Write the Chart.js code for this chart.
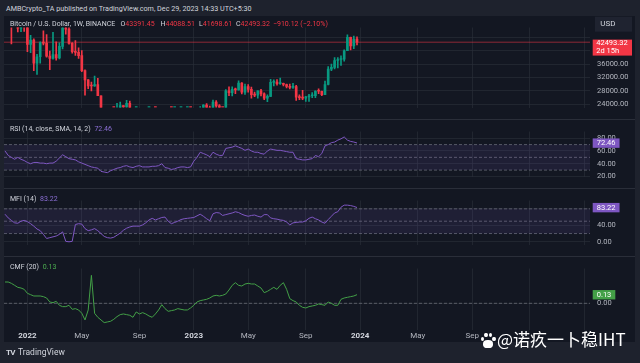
<!DOCTYPE html>
<html><head><meta charset="utf-8">
<script src="https://cdn.jsdelivr.net/npm/chart.js@4.4.1/dist/chart.umd.min.js"></script>
<style>
html,body{margin:0;padding:0;}
body{width:640px;height:363px;overflow:hidden;background:#1e222d;position:relative;font-family:Roboto,"Liberation Sans",Arial,sans-serif;}
#frame{position:absolute;left:4px;top:16px;width:631px;height:326px;background:#131722;}
.pane{position:absolute;left:4px;width:636px;}
.pane canvas{display:block;}
.t{position:absolute;white-space:nowrap;color:#d1d4dc;font-size:7px;line-height:9px;}
.sep{position:absolute;left:4px;width:631px;height:1px;background:#2a2e39;}
.red{color:#f23645;}
.paw i{position:absolute;background:#fff;border-radius:50%;display:block;}
</style></head><body>
<div id="frame"></div>
<div class="pane" style="top:16px;height:103px"><canvas id="cPrice" width="636" height="103"></canvas></div>
<div class="pane" style="top:120px;height:68px"><canvas id="cRsi" width="636" height="68"></canvas></div>
<div class="pane" style="top:189px;height:67px"><canvas id="cMfi" width="636" height="67"></canvas></div>
<div class="pane" style="top:257px;height:85px"><canvas id="cCmf" width="636" height="85"></canvas></div>
<div class="sep" style="top:119px"></div>
<div class="sep" style="top:188px"></div>
<div class="sep" style="top:256px"></div>

<div class="t" style="left:6px;top:3.5px;font-size:7.2px;">AMBCrypto_TA published on TradingView.com, Dec 29, 2023 14:33 UTC+5:30</div>
<div class="t" style="left:10px;top:19.5px">Bitcoin / U.S. Dollar, 1W, BINANCE</div>
<div class="t" id="lgO" style="left:120.5px;top:19.5px"></div>
<div class="t" id="lgH" style="left:160.5px;top:19.5px"></div>
<div class="t" id="lgL" style="left:199px;top:19.5px"></div>
<div class="t" id="lgC" style="left:236px;top:19.5px"></div>
<div class="t red" id="lgChg" style="left:273px;top:19.5px"></div>
<div class="t" style="left:10px;top:124.5px">RSI (14, close, SMA, 14, 2) <span id="rsiV" style="color:#8c6fd6;margin-left:2px"></span></div>
<div class="t" style="left:10px;top:194.5px">MFI (14) <span id="mfiV" style="color:#8c6fd6;margin-left:2px"></span></div>
<div class="t" style="left:10px;top:263.2px">CMF (20) <span id="cmfV" style="color:#4caf50;margin-left:2px"></span></div>

<div class="t" style="left:6px;top:347.5px;font-size:8px;font-weight:bold;letter-spacing:-0.8px">TV</div>
<div class="t" style="left:18px;top:347.5px;font-size:8.5px;">TradingView</div>

<div class="paw" style="position:absolute;left:480px;top:332px;width:16px;height:16px;">
  <i style="left:0.5px;top:4.5px;width:3.5px;height:4.5px"></i>
  <i style="left:4px;top:0.5px;width:3.5px;height:4.5px"></i>
  <i style="left:8.5px;top:0.5px;width:3.5px;height:4.5px"></i>
  <i style="left:12px;top:4.5px;width:3.5px;height:4.5px"></i>
  <i style="left:3px;top:7.5px;width:10px;height:8px;border-radius:45%"></i>
</div>
<div style="position:absolute;left:497px;top:328px;font-size:17px;line-height:22px;color:#fff;white-space:nowrap;font-family:'Noto Sans CJK SC',sans-serif;">@诺疚一卜稳IHT</div>

<script>
// ---------- DATA ----------
const openP = [65500,58600,57270,49400,50100,46700,50800,47300,41850,43100,36280,38150,42400,42200,38350,37700,38800,37800,41250,46800,46400,42150,39700,39450,38500,34050,31300,29450,29440,29900,26550,20550,21000,19300,20850,20800,22550,23650,23200,24300,21150,19550,19800,21800,19400,18800,19050,19400,19200,19550,20600,20900,16350,16280,16450,17100,17100,16750,16850,16600,17130,20870,22700,23750,22930,21780,24630,23550,22430,22150,28000,27500,28450,28300,30300,27600,29250,28450,26900,26750,28050,27100,25850,26350,30550,30600,30150,30250,29900,29300,29050,29300,26100,26000,25850,26200,26550,26550,27950,27900,26850,29900,34500,35000,37050,37350,37450,39950,43950,41350,43391.45];
const highP = [66300,59200,59050,51950,50650,51900,52100,47550,44500,43500,38900,42600,45850,44750,39850,45400,42600,42300,46900,48200,47450,42400,42950,40800,40000,34250,31400,30650,32400,31750,26550,21850,21550,22500,21650,24300,24700,23650,25200,25000,21900,20600,22800,22700,19950,20400,20450,19500,19700,21000,21450,21450,17200,16750,17450,17450,18400,16950,16950,17300,21300,23350,23950,24250,23450,25250,25150,23900,22600,28400,29200,29200,28800,31000,30500,30050,29850,29100,27650,28050,28450,27400,26800,31450,31300,31350,31800,30350,29990,30050,30250,29650,26800,28150,26400,27000,27500,28050,28600,27950,30950,35250,35950,37950,37950,38400,40250,44700,44000,44300,44088.51];
const lowP  = [55600,53250,42000,47300,45550,45600,45700,39650,39400,34000,32900,36250,41700,38000,34300,37450,37150,37550,40500,44900,41900,39200,38550,37700,33700,26700,28650,28000,29300,26550,17600,19600,18600,19000,18900,20750,20700,22400,22650,20750,19800,19550,18550,19300,18150,18450,19000,18200,18900,19250,20050,15600,15800,15500,16000,16750,16550,16500,16300,16500,17100,20400,22300,22500,21350,21350,22750,21950,19550,21900,26600,26500,27200,28200,27100,26950,27650,25800,26300,25850,26500,25350,24800,26250,29500,29700,29950,29500,28850,28600,28700,25150,25350,25350,24900,24900,26000,26000,27200,26550,26850,29800,34050,34550,34800,35600,36850,39950,40200,40550,41698.61];
const closeP= [58600,57270,49400,50100,46700,50800,47300,41850,43100,36280,38150,42400,42200,38350,37700,38800,37800,41250,46800,46400,42150,39700,39450,38500,34050,31300,29450,29440,29900,26550,20550,21000,19300,20850,20800,22550,23650,23200,24300,21150,19550,19800,21800,19400,18800,19050,19400,19200,19550,20600,20900,16350,16280,16450,17100,17100,16750,16850,16600,17130,20870,22700,23750,22930,21780,24630,23550,22430,22150,28000,27500,28450,28300,30300,27600,29250,28450,26900,26750,28050,27100,25850,26350,30550,30600,30150,30250,29900,29300,29050,29300,26100,26000,25850,26200,26550,26550,27950,27900,26850,29900,34500,35000,37050,37350,37450,39950,43950,41350,43403.44,42493.32];
const rsi = [60,53,50,47,50,47,45,42,40,42,42,41,41,40,41,41,44,49,54,51,48,47,46,43,41,39,37,35,34,33,28,27,26,29,31,33,34,36,37,35,34,36,37,35,35,35,36,36,37,40,34,33,31,32,34,35,35,34,35,44,50,58,56,54,51,58,55,53,53,64,65,66,68,66,64,61,63,60,58,58,56,55,60,63,62,61,61,60,59,58,58,48,47,46,46,47,48,53,51,56,68,70,73,74,77,79,82,77,75,74,72.46];
const mfi = [67,58,52,46,45,50,52,49,44,38,31,27,18,8,10,12,14,18,24,1,0,1,42,44,43,32,27,29,32,27,20,13,10,9,11,16,21,28,33,36,38,38,38,41,46,53,57,53,56,59,60,50,44,47,50,54,56,57,58,59,63,67,62,56,51,68,71,70,64,66,68,70,73,71,67,64,62,64,65,62,60,66,66,58,56,55,53,52,48,41,46,47,48,48,51,57,60,56,53,48,45,54,62,70,73,84,89,89,88,86,83.22];
const cmf = [0.32,0.32,0.30,0.27,0.24,0.23,0.21,0.15,0.13,0.11,0.11,0.11,0.10,0.08,0.02,0.01,0.03,-0.03,-0.05,-0.05,-0.03,-0.09,-0.08,-0.10,-0.15,-0.25,-0.10,0.42,-0.15,-0.21,-0.25,-0.29,-0.28,-0.27,-0.24,-0.20,-0.17,-0.16,-0.17,-0.18,-0.21,-0.13,-0.16,-0.14,-0.16,-0.19,-0.21,-0.16,-0.10,-0.02,-0.08,-0.12,-0.11,-0.10,-0.08,-0.09,-0.10,-0.10,-0.07,-0.03,0.02,0.04,0.05,0.06,0.08,0.11,0.12,0.11,0.12,0.14,0.20,0.27,0.31,0.27,0.26,0.29,0.30,0.29,0.29,0.26,0.23,0.16,0.18,0.21,0.24,0.21,0.27,0.31,0.21,0.07,0.04,0.02,-0.03,-0.06,-0.07,-0.05,-0.04,-0.03,-0.01,-0.02,-0.03,0.02,0.00,-0.03,-0.03,0.06,0.08,0.09,0.10,0.11,0.13];
const rsiBands = [70,50,30];
const mfiBands = [80,50,20];
const cmfZero = [0];
const priceTicks = [24000,28000,32000,36000,40000,44000];
const priceTickLabels = ['24000.00','28000.00','32000.00','36000.00','',''];
const rsiTicks = [20,40,60,80];
const rsiTickLabels = ['20.00','40.00','60.00','80.00'];
const mfiTicks = [0,40,80];
const mfiTickLabels = ['0.00','40.00',''];
const cmfTicks = [0];
const cmfTickLabels = ['0.00'];
const timeTickIdx = [7,24,42,59,76,94,111,129,146,164,181];
const timeTickLabels = ['2022','May','Sep','2023','May','Sep','2024','May','Sep','',''];
const timeTickYear = [true,false,false,true,false,false,true,false,false,true,false];
const countdown = '2d 15h';

// ---------- STYLE ----------
const FONT = 'Roboto, "Liberation Sans", Arial, sans-serif';
const GRID = 'rgba(42,46,57,0.65)';
const AXIS_TXT = '#b2b5be';
const UP = '#089981', DOWN = '#f23645', PURPLE = '#7e57c2', GREEN = '#43a047';
const BAND_LINE = 'rgba(120,123,134,0.65)';
const BAND_FILL = 'rgba(126,87,194,0.12)';
const X_MIN = -0.3125, X_MAX = 182.8125, AXIS_W = 50;

const n = closeP.length;
const last = n - 1;
const fmt = v => v.toFixed(2);
document.getElementById('lgO').innerHTML = 'O<span class="red">' + fmt(openP[last]) + '</span>';
document.getElementById('lgH').innerHTML = 'H<span class="red">' + fmt(highP[last]) + '</span>';
document.getElementById('lgL').innerHTML = 'L<span class="red">' + fmt(lowP[last]) + '</span>';
document.getElementById('lgC').innerHTML = 'C<span class="red">' + fmt(closeP[last]) + '</span>';
const chg = closeP[last] - closeP[last-1];
document.getElementById('lgChg').textContent = (chg < 0 ? '\u2212' : '+') + fmt(Math.abs(chg)) + ' (' + (chg < 0 ? '\u2212' : '+') + fmt(Math.abs(chg / closeP[last-1] * 100)) + '%)';
document.getElementById('rsiV').textContent = fmt(rsi[last]);
document.getElementById('mfiV').textContent = fmt(mfi[last]);
document.getElementById('cmfV').textContent = fmt(cmf[last]);

const pts = arr => arr.map((v, i) => ({x: i, y: v}));
const hline = v => [{x: X_MIN, y: v}, {x: X_MAX, y: v}];

function xAxis(showLabels) {
  return {
    type: 'linear', min: X_MIN, max: X_MAX, position: 'bottom', offset: false,
    grid: {color: GRID, drawTicks: false, lineWidth: 1, offset: false},
    border: {display: false},
    ticks: {
      display: showLabels, padding: 1.5, maxRotation: 0, autoSkip: false,
      color: c => timeTickYear[c.index] ? '#d1d4dc' : AXIS_TXT,
      font: c => ({family: FONT, size: 8, weight: timeTickYear[c.index] ? 'bold' : 'normal'}),
      callback: (v, i) => timeTickLabels[i]
    },
    afterBuildTicks: s => { s.ticks = timeTickIdx.map(v => ({value: v})); },
    afterFit: s => { s.height = showLabels ? 12 : 0; }
  };
}
function yAxis(min, max, ticks, labels) {
  return {
    type: 'linear', position: 'right', min, max,
    grid: {color: GRID, drawTicks: false},
    border: {display: false},
    ticks: {color: AXIS_TXT, font: {family: FONT, size: 7.5}, padding: 7, callback: (v, i) => labels[i]},
    afterBuildTicks: s => { s.ticks = ticks.map(v => ({value: v})); },
    afterFit: s => { s.width = AXIS_W; }
  };
}

const boxPlugin = {
  id: 'boxes',
  afterDraw(chart, args, opts) {
    const ctx = chart.ctx, ys = chart.scales.y, x0 = chart.chartArea.right + 2.7;
    ctx.save();
    ctx.font = '7.5px ' + FONT;
    ctx.textBaseline = 'middle';
    (opts.items || []).forEach(it => {
      const y = ys.getPixelForValue(it.value);
      if (it.kind === 'price') {
        ctx.fillStyle = it.bg;
        ctx.fillRect(x0, y - 2.6, 628 - x0, 16);
        ctx.fillStyle = it.fg;
        ctx.textAlign = 'left';
        ctx.fillText(fmt(it.value), x0 + 3.5, y + 1);
        ctx.fillText(it.sub, x0 + 3.5, y + 8.6);
        ctx.fillStyle = '#1f2330';
        ctx.fillRect(x0 + 2.3, 0.7, 628 - x0 - 2.3, 15);
        ctx.fillStyle = '#d1d4dc';
        ctx.font = '8px ' + FONT;
        ctx.fillText('USD', x0 + 7.5, 8.3);
      } else {
        const txt = fmt(it.value);
        const w = ctx.measureText(txt).width + 8;
        ctx.fillStyle = it.bg;
        ctx.fillRect(x0, y - 4.6, w, 9.4);
        ctx.fillStyle = it.fg;
        ctx.textAlign = 'center';
        ctx.fillText(txt, x0 + w / 2, y + 0.3);
      }
    });
    ctx.restore();
  }
};

function makeChart(id, datasets, y, showX, items) {
  return new Chart(document.getElementById(id), {
    type: 'line',
    data: {datasets},
    options: {
      responsive: false, animation: false, events: [],
      layout: {padding: 0},
      plugins: {legend: {display: false}, tooltip: {enabled: false}, boxes: {items}},
      scales: {x: xAxis(showX), y}
    },
    plugins: [boxPlugin]
  });
}

// ---------- PRICE ----------
const candleCol = closeP.map((c, i) => c >= openP[i] ? UP : DOWN);
makeChart('cPrice', [
  {type: 'bar', data: closeP.map((c, i) => ({x: i, y: [Math.min(openP[i], c), Math.max(openP[i], c)]})),
   backgroundColor: candleCol, barThickness: 2, grouped: false, minBarLength: 1, borderWidth: 0},
  {type: 'bar', data: highP.map((h, i) => ({x: i, y: [lowP[i], h]})),
   backgroundColor: candleCol, barThickness: 1, grouped: false, borderWidth: 0},
  {type: 'line', data: hline(closeP[last]), borderColor: 'rgba(242,54,69,0.55)', borderWidth: 1, pointRadius: 0}
], yAxis(23053, 46867, priceTicks, priceTickLabels), false,
  [{kind: 'price', value: closeP[last], bg: '#f23645', fg: '#ffffff', sub: countdown}]);

// ---------- RSI ----------
makeChart('cRsi', [
  {data: pts(rsi), borderColor: PURPLE, borderWidth: 1, pointRadius: 0, tension: 0},
  {data: hline(rsiBands[0]), borderColor: BAND_LINE, borderWidth: 1, borderDash: [3, 2], pointRadius: 0,
   fill: {value: rsiBands[2]}, backgroundColor: BAND_FILL},
  {data: hline(rsiBands[1]), borderColor: BAND_LINE, borderWidth: 1, borderDash: [3, 2], pointRadius: 0},
  {data: hline(rsiBands[2]), borderColor: BAND_LINE, borderWidth: 1, borderDash: [3, 2], pointRadius: 0}
], yAxis(20, 90.5, rsiTicks, rsiTickLabels), false,
  [{value: rsi[last], bg: PURPLE, fg: '#ffffff'}]);

// ---------- MFI ----------
makeChart('cMfi', [
  {data: pts(mfi), borderColor: PURPLE, borderWidth: 1, pointRadius: 0, tension: 0},
  {data: hline(mfiBands[0]), borderColor: BAND_LINE, borderWidth: 1, borderDash: [3, 2], pointRadius: 0,
   fill: {value: mfiBands[2]}, backgroundColor: BAND_FILL},
  {data: hline(mfiBands[1]), borderColor: BAND_LINE, borderWidth: 1, borderDash: [3, 2], pointRadius: 0},
  {data: hline(mfiBands[2]), borderColor: BAND_LINE, borderWidth: 1, borderDash: [3, 2], pointRadius: 0}
], yAxis(-6.6, 100.3, mfiTicks, mfiTickLabels), false,
  [{value: mfi[last], bg: PURPLE, fg: '#ffffff'}]);

// ---------- CMF ----------
makeChart('cCmf', [
  {data: pts(cmf), borderColor: GREEN, borderWidth: 1, pointRadius: 0, tension: 0},
  {data: hline(cmfZero[0]), borderColor: BAND_LINE, borderWidth: 1, borderDash: [3, 2], pointRadius: 0}
], yAxis(-0.401, 0.523, cmfTicks, cmfTickLabels), true,
  [{value: cmf[last], bg: GREEN, fg: '#ffffff'}]);
</script>
</body></html>
